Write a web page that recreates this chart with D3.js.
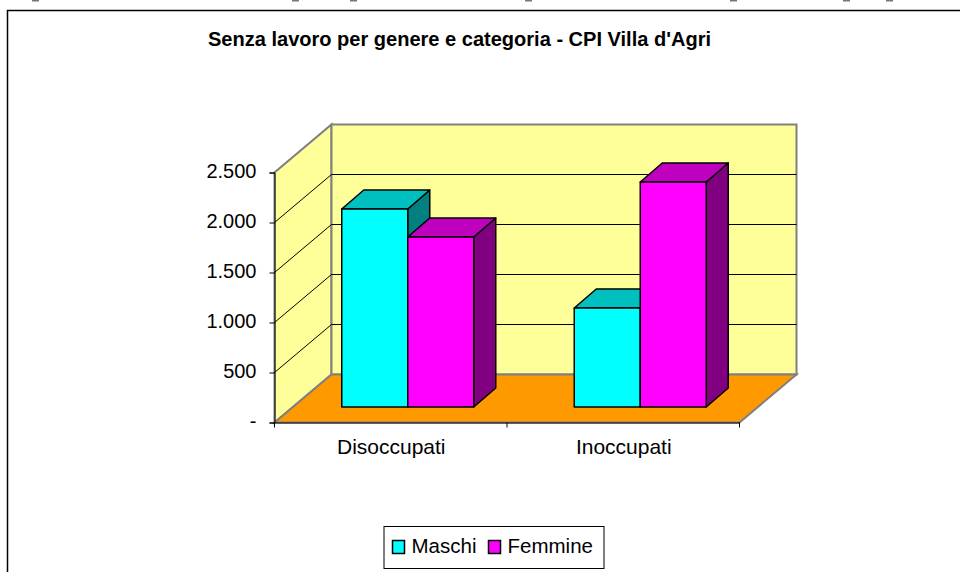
<!DOCTYPE html>
<html lang="en">
<head>
	<meta charset="utf-8"/>
	<title>Senza lavoro per genere e categoria</title>
	<script src="https://d3js.org/d3.v7.min.js" charset="utf-8"></script>
	<style>
		html, body { margin: 0; padding: 0; background: #fff; overflow: hidden; }
		svg { display: block; }
		text { font-family: "Liberation Sans", Arial, sans-serif; fill: #000; }
	</style>
</head>
<body>
<div id="chart"></div>

<script>
	// chart values
	var categories = ["Disoccupati", "Inoccupati"];
	var seriesNames = ["Maschi", "Femmine"];
	var maschi = [1980, 990];
	var femmine = [1700, 2250];
	var yTicks = [0, 500, 1000, 1500, 2000, 2500];
	var yTickLabels = ["-", "500", "1.000", "1.500", "2.000", "2.500"];
	var chartTitle = "Senza lavoro per genere e categoria - CPI Villa d'Agri";

	var colors = {maschi: "#00ffff", maschiTop: "#00bfbf", maschiSide: "#008080",
		femmine: "#ff00ff", femmineTop: "#bf00bf", femmineSide: "#800080"};

	var width = 960,
		height = 572;

	var svg = d3.select("#chart").append("svg")
		.attr("width", width)
		.attr("height", height);

	// descenders of the line of text cut off above the picture
	svg.append("g").selectAll("rect")
		.data([35, 295, 353, 528, 733, 846, 889])
		.enter().append("rect")
		.attr("x", function(d) { return d - 3; })
		.attr("y", 0)
		.attr("width", 7)
		.attr("height", 1.5)
		.attr("fill", "#777");

	// frame of the chart area, cut off by the page on the right and bottom
	svg.append("path")
		.attr("d", "M7.5,572V10.5H960")
		.attr("fill", "none")
		.attr("stroke", "#000")
		.attr("stroke-width", 1.5);

	svg.append("text")
		.attr("x", 459.5)
		.attr("y", 45.5)
		.attr("text-anchor", "middle")
		.attr("font-weight", "bold")
		.attr("font-size", 21)
		.attr("textLength", 503)
		.attr("lengthAdjust", "spacingAndGlyphs")
		.text(chartTitle);

	// front edge of the floor is the axis, the back wall is shifted by depth
	var x = d3.scaleBand().domain(categories).range([274.5, 739.5]);
	var y = d3.scaleLinear().domain([0, 2500]).range([422.5, 172.5]);
	var depth = {x: 57, y: -48};
	var y0 = y(0), y1 = y(2500), x0 = x.range()[0], x1 = x.range()[1];

	function pts(a) { return a.map(function(p) { return p.join(","); }).join(" "); }

	// side wall, back wall, floor
	svg.append("polygon")
		.attr("points", pts([[x0, y0], [x0, y1], [x0 + depth.x, y1 + depth.y], [x0 + depth.x, y0 + depth.y]]))
		.attr("fill", "#ffff99").attr("stroke", "#808080").attr("stroke-width", 2);
	svg.append("polygon")
		.attr("points", pts([[x0 + depth.x, y0 + depth.y], [x0 + depth.x, y1 + depth.y], [x1 + depth.x, y1 + depth.y], [x1 + depth.x, y0 + depth.y]]))
		.attr("fill", "#ffff99").attr("stroke", "#808080").attr("stroke-width", 2);
	svg.append("polygon")
		.attr("points", pts([[x0, y0], [x0 + depth.x, y0 + depth.y], [x1 + depth.x, y0 + depth.y], [x1, y0]]))
		.attr("fill", "#ff9900").attr("stroke", "#808080").attr("stroke-width", 2);

	// gridlines on both walls
	svg.append("g").selectAll("path")
		.data(yTicks.slice(1, 5))
		.enter().append("path")
		.attr("d", function(d) {
			return "M" + x0 + "," + y(d) + "L" + (x0 + depth.x) + "," + (y(d) + depth.y) + "H" + (x1 + depth.x);
		})
		.attr("fill", "none")
		.attr("stroke", "#000")
		.attr("stroke-width", 1);

	// axis lines, on top of the floor outline
	var yAxis = d3.axisLeft(y).tickValues(yTicks)
		.tickFormat(function(d, i) { return yTickLabels[i]; })
		.tickSize(5).tickPadding(13);
	var gy = svg.append("g").attr("transform", "translate(" + x0 + ",0)").call(yAxis);
	gy.selectAll("text").attr("font-size", 20).attr("font-family", null).attr("y", -1);
	gy.select(".domain").attr("stroke", "#000");

	var xAxis = d3.axisBottom(x).tickValues([]).tickSizeOuter(0);
	svg.append("g").attr("transform", "translate(0," + y0 + ")").call(xAxis);

	svg.append("g").selectAll("line")
		.data([x0, x0 + x.bandwidth(), x1])
		.enter().append("line")
		.attr("x1", function(d) { return d; })
		.attr("x2", function(d) { return d; })
		.attr("y1", y0)
		.attr("y2", y0 + 5)
		.attr("stroke", "#000");

	svg.append("g").selectAll("text")
		.data(categories)
		.enter().append("text")
		.attr("x", function(d) { return x(d) + x.bandwidth() / 2 + 0.5; })
		.attr("y", 454)
		.attr("text-anchor", "middle")
		.attr("font-size", 21)
		.text(function(d) { return d; });

	// bars: one face each for front, top and side, maschi first so femmine sit in front
	var barW = 66, barInset = {x: 17, y: -15.5}, barDepth = {x: 22, y: -19};
	var barData = [];
	categories.forEach(function(c, i) {
		var left = x(c) + x.bandwidth() / 2 + barInset.x - barW;
		barData.push({v: maschi[i], x: left, s: "maschi"});
		barData.push({v: femmine[i], x: left + barW, s: "femmine"});
	});

	var bars = svg.append("g").selectAll("g")
		.data(barData)
		.enter().append("g")
		.attr("stroke", "#000")
		.attr("stroke-width", 1.5)
		.attr("stroke-linejoin", "round");

	function barTop(d) { return y(d.v) + barInset.y; }
	var base = y0 + barInset.y;

	bars.append("polygon")
		.attr("fill", function(d) { return colors[d.s + "Side"]; })
		.attr("points", function(d) {
			var r = d.x + barW;
			return pts([[r, base], [r, barTop(d)], [r + barDepth.x, barTop(d) + barDepth.y], [r + barDepth.x, base + barDepth.y]]);
		});
	bars.append("polygon")
		.attr("fill", function(d) { return colors[d.s + "Top"]; })
		.attr("points", function(d) {
			var r = d.x + barW;
			return pts([[d.x, barTop(d)], [d.x + barDepth.x, barTop(d) + barDepth.y], [r + barDepth.x, barTop(d) + barDepth.y], [r, barTop(d)]]);
		});
	bars.append("rect")
		.attr("fill", function(d) { return colors[d.s]; })
		.attr("x", function(d) { return d.x; })
		.attr("y", function(d) { return barTop(d); })
		.attr("width", barW)
		.attr("height", function(d) { return base - barTop(d); });

	// legend
	var legend = svg.append("g");
	legend.append("rect")
		.attr("x", 384).attr("y", 526.5).attr("width", 220).attr("height", 42)
		.attr("fill", "#fff").attr("stroke", "#000");
	var items = legend.selectAll("g")
		.data(seriesNames)
		.enter().append("g")
		.attr("transform", function(d, i) { return "translate(" + (392.5 + i * 96) + ",0)"; });
	items.append("rect")
		.attr("y", 540.5).attr("width", 12).attr("height", 13)
		.attr("fill", function(d, i) { return i ? colors.femmine : colors.maschi; })
		.attr("stroke", "#000").attr("stroke-width", 1.5);
	items.append("text")
		.attr("x", 19).attr("y", 553)
		.attr("font-size", 20.5)
		.text(function(d) { return d; });
</script>
</body>
</html>
